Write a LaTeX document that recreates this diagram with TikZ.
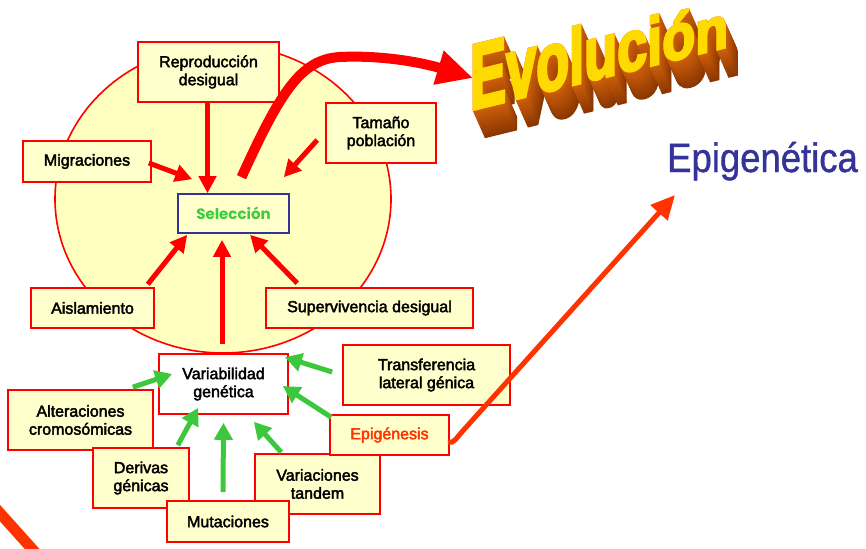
\documentclass[tikz,border=0pt]{standalone}
\usepackage{fontspec}
\setmainfont{Liberation Sans}
\newfontfamily\boxfont{Liberation Sans}[FakeBold=2.5]
\newfontfamily\titlefont{Liberation Sans}[FakeBold=1]
\newfontfamily\selfont{Poppins}
\newfontfamily\evofont{Liberation Sans}[FakeBold=4]
\usetikzlibrary{arrows.meta,fadings}
\definecolor{boxred}{RGB}{255,0,0}
\definecolor{boxfill}{RGB}{255,255,204}
\definecolor{circlefill}{RGB}{255,255,192}
\definecolor{selblue}{RGB}{51,51,153}
\definecolor{selgreen}{RGB}{60,204,60}
\definecolor{arrowgreen}{RGB}{60,200,60}
\definecolor{epired}{RGB}{255,51,0}
\definecolor{evotop}{RGB}{255,218,0}
\definecolor{evobottom}{RGB}{255,85,0}
\definecolor{evoside}{RGB}{205,95,10}
\definecolor{evoshadow}{RGB}{130,50,0}
\tikzfading[name=evoglow, top color=transparent!0, bottom color=transparent!100]
\tikzset{
  box/.style={draw=boxred, line width=1.6pt, fill=boxfill, align=center, inner sep=2pt, font=\boxfont\fontsize{16}{18}\selectfont},
  whitebox/.style={box, fill=white},
  selbox/.style={box, draw=selblue, text=selgreen, font=\selfont\bfseries\fontsize{15}{17}\selectfont},
  redarrow/.style={-{Triangle[length=17pt,width=17pt]}, line width=5pt, draw=boxred},
  greenarrow/.style={-{Triangle[length=17pt,width=18pt]}, line width=5pt, draw=arrowgreen},
  bigarrow/.style={-{Triangle[length=36pt,width=33pt]}, line width=10pt, draw=boxred},
  epiarrow/.style={-{Triangle[length=24pt,width=22pt]}, line width=5pt, draw=epired},
  evoletter/.style={anchor=base west, inner sep=0pt, transform shape, font=\evofont\bfseries\fontsize{54}{54}\selectfont}
}

\begin{document}
\begin{tikzpicture}[x=1pt, y=-1pt]
  \useasboundingbox (0,0) rectangle (866,548);

  \draw[boxred, line width=1.6pt, fill=circlefill] (223,199) ellipse [x radius=168, y radius=154];

  \node[box, minimum width=141pt, minimum height=60pt] (repro) at (208.5,72) {Reproducción\\desigual};
  \node[box, minimum width=128pt, minimum height=41pt] (migra) at (87,161.5) {Migraciones};
  \node[box, minimum width=110pt, minimum height=60pt] (tamano) at (381,133) {Tamaño\\población};
  \node[selbox, minimum width=111pt, minimum height=39pt] (selec) at (233.5,213.5) {Selección};
  \node[box, minimum width=123pt, minimum height=40pt] (aisla) at (92.5,308) {Aislamiento};
  \node[box, minimum width=207pt, minimum height=40pt] (superv) at (369.5,308) {Supervivencia desigual};
  \node[whitebox, minimum width=129pt, minimum height=60pt] (variab) at (223.5,384) {Variabilidad\\genética};
  \node[box, minimum width=167pt, minimum height=60pt] (transf) at (426.5,375) {Transferencia\\lateral génica};
  \node[box, minimum width=145pt, minimum height=60pt] (altera) at (80.5,420) {Alteraciones\\cromosómicas};
  \node[box, minimum width=96pt, minimum height=60pt] (derivas) at (141,478) {Derivas\\génicas};
  \node[box, minimum width=125pt, minimum height=60pt] (variac) at (317.5,484) {Variaciones\\tandem};
  \node[box, minimum width=119pt, minimum height=40pt, text=epired] (epibox) at (389.5,435) {Epigénesis};
  \node[box, minimum width=122pt, minimum height=41pt] (mutac) at (228,521.5) {Mutaciones};

  % factores que actuan sobre la seleccion
  \draw[redarrow] ([xshift=-1]repro.south) -- ([xshift=-26]selec.north);
  \draw[redarrow] ([shift={(-3,1.5)}]migra.east) -- ([shift={(15,-14)}]selec.north west);
  \draw[redarrow] ([shift={(-8,7)}]tamano.west) -- ([shift={(-6,-16)}]selec.north east);
  \draw[redarrow] ([shift={(-7,-3)}]aisla.north east) -- ([shift={(10,1)}]selec.south west);
  \draw[redarrow] ([shift={(-1.5,-9)}]variab.north) -- ([shift={(-11.5,6)}]selec.south);
  \draw[redarrow] ([shift={(32,-4)}]superv.north west) -- ([shift={(16.5,1)}]selec.south);

  % fuentes de variabilidad
  \draw[greenarrow] ([shift={(-21,-2)}]altera.north east) -- ([shift={(14,-10)}]variab.west);
  \draw[greenarrow] ([shift={(-12,-2)}]derivas.north east) -- ([shift={(40,-7)}]variab.south west);
  \draw[greenarrow] ([shift={(-5,-8)}]mutac.north) -- ([shift={(0,8)}]variab.south);
  \draw[greenarrow] ([shift={(27,-1)}]variac.north west) -- ([shift={(-35,7)}]variab.south east);
  \draw[greenarrow] ([shift={(-10,-3)}]transf.west) -- ([shift={(-4,4)}]variab.north east);
  \draw[greenarrow] ([shift={(2,3)}]epibox.north west) -- ([shift={(-6,2)}]variab.east);

  % titulo en relieve
  \begin{scope}[shift={(470,110)}, yslant=0.245]
    \foreach \t in {30,29,...,1}{
      \pgfmathtruncatemacro\mix{min(100,\t*3)}
      \foreach \ch/\dx/\ys in {E/0/1.71, v/36/1.62, o/66/1.53, l/99/1.47, u/114/1.40, c/147/1.32, i/177/1.26, ó/192/1.19, n/225/1.10}
        \node[evoletter, text=evoshadow!\mix!evoside, yscale=\ys] at (\dx+0.4*\t,\t) {\ch};
    }
    \foreach \ch/\dx/\ys in {E/0/1.71, v/36/1.62, o/66/1.53, l/99/1.47, u/114/1.40, c/147/1.32, i/177/1.26, ó/192/1.19, n/225/1.10}
      \node[evoletter, text=evobottom, yscale=\ys] at (\dx,0) {\ch};
    \begin{scope}[scope fading=evoglow, fading transform={shift={(130,-42)}, xscale=3, yscale=0.7}]
      \foreach \ch/\dx/\ys in {E/0/1.71, v/36/1.62, o/66/1.53, l/99/1.47, u/114/1.40, c/147/1.32, i/177/1.26, ó/192/1.19, n/225/1.10}
        \node[evoletter, text=evotop, yscale=\ys] at (\dx,0) {\ch};
    \end{scope}
  \end{scope}
  \coordinate (evotip) at (473,78);

  \draw[bigarrow] ([shift={(8,-16)}]selec.north) .. controls +(38,-83) and +(-40,2) .. (340,57)
    .. controls +(40,-2) and +(-53,-16) .. (evotip);

  \node[anchor=base west, inner sep=0pt, text=selblue, font=\titlefont\fontsize{41}{41}\selectfont, xscale=0.89] (epigen) at (667,172) {Epigenética};
  \draw[epiarrow] ([shift={(-2,7)}]epibox.east) to[out=-20, in=225] ++(14,-10) -- ([shift={(8,23)}]epigen.base west);

  \draw[epired, line width=11pt] (-10,502) -- (42,560);
\end{tikzpicture}
\end{document}
